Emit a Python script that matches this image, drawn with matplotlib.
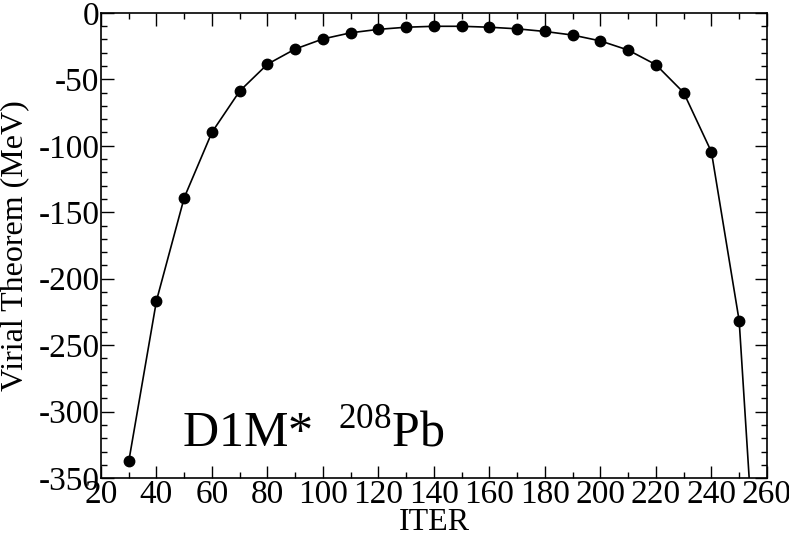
import matplotlib
matplotlib.use("Agg")
from matplotlib import pyplot as plt
from matplotlib.ticker import MultipleLocator

# data
iters = [30, 40, 50, 60, 70, 80, 90, 100, 110, 120, 130, 140, 150,
         160, 170, 180, 190, 200, 210, 220, 230, 240, 250, 260]
virial = [-337.5, -216.5, -139.0, -89.8, -58.8, -38.6, -27.2, -19.6,
          -15.0, -12.4, -10.8, -10.1, -10.1, -10.8, -12.0, -14.0,
          -16.7, -21.1, -28.0, -39.0, -60.0, -104.6, -231.6, -560.0]

plt.rcParams['font.family'] = ['Liberation Serif', 'DejaVu Serif']
plt.rcParams['mathtext.fontset'] = 'custom'
plt.rcParams['mathtext.rm'] = 'Liberation Serif'
plt.rcParams['axes.unicode_minus'] = False

fig = plt.figure(figsize=(7.89, 5.36), dpi=100)
ax = fig.add_axes([0.128, 0.108, 0.844, 0.868])

ax.plot(iters, virial, color='black', linewidth=1.2, marker='o',
        markersize=7.5, clip_on=True)

ax.set_xlim(20, 260)
ax.set_ylim(-350, 0)
ax.xaxis.set_major_locator(MultipleLocator(20))
ax.xaxis.set_minor_locator(MultipleLocator(10))
ax.yaxis.set_major_locator(MultipleLocator(50))
ax.yaxis.set_minor_locator(MultipleLocator(10))
ax.tick_params(which='both', direction='in', top=True, right=True,
               labelsize=24, width=1.0, color='black')
ax.tick_params(which='major', length=9, pad=1)
ax.tick_params(which='minor', length=4.5)
for s in ax.spines.values():
    s.set_linewidth(1.2)

ax.set_xlabel('ITER', fontsize=23)
ax.set_ylabel('Virial Theorem (MeV)', fontsize=23)
ax.xaxis.set_label_coords(0.5, -0.064)
ax.yaxis.set_label_coords(-0.108, 0.5)

ax.text(0.122, 0.068, r'D1M*  $^{208}$Pb', transform=ax.transAxes,
        fontsize=36, ha='left', va='baseline')

fig.savefig('out.png', dpi=100)
